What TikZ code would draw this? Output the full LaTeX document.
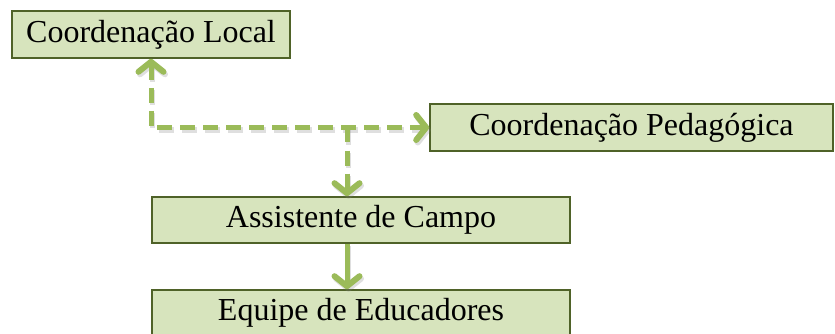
\documentclass[tikz,border=0pt]{standalone}
\usepackage{fontspec}
\setmainfont{Liberation Serif}
\usetikzlibrary{arrows.meta}
\definecolor{boxfill}{HTML}{D7E4BD}
\definecolor{boxline}{HTML}{4F6228}
\definecolor{arrowgreen}{HTML}{9BBB59}
\tikzset{
  orgbox/.style = {draw=boxline, line width=1.6pt, fill=boxfill, inner sep=0pt,
    font=\fontsize{32}{38}\selectfont},
  barb/.tip = {Straight Barb[length=10pt,width=25pt,line width=6pt 0 0,round]},
  flow/.style = {draw=arrowgreen, line width=5pt, -barb,
    preaction={draw=black!50, opacity=0.25, line width=5.5pt, transform canvas={shift={(1.5pt,-2.5pt)}}}},
  dashflow/.style = {draw=arrowgreen, line width=5pt, -barb, dash pattern=on 15pt off 8pt,
    preaction={draw=black!50, opacity=0.25, line width=5.5pt, dash pattern=on 15pt off 8pt,
      transform canvas={shift={(1.5pt,-2.5pt)}}}}
}

\begin{document}
\begin{tikzpicture}[x=1pt,y=-1pt]
  \useasboundingbox (0,0) rectangle (835,334);

  \node[orgbox, minimum width=278pt, minimum height=47pt] (local) at (151,34.5) {Coordenação Local};
  \node[orgbox, minimum width=403pt, minimum height=47pt] (ped) at (631.5,127.5) {Coordenação Pedagógica};
  \node[orgbox, minimum width=418pt, minimum height=46pt] (assist) at (361,220) {Assistente de Campo};
  \node[orgbox, minimum width=418pt, minimum height=46pt] (equipe) at (361,313) {Equipe de Educadores};

  \coordinate (split) at (347,127.5);

  \draw[dashflow, barb-barb] (local.south) |- (ped.west);
  \draw[dashflow] (split) -- (split |- assist.north);
  \draw[flow] (split |- assist.south) -- (split |- equipe.north);
\end{tikzpicture}
\end{document}
